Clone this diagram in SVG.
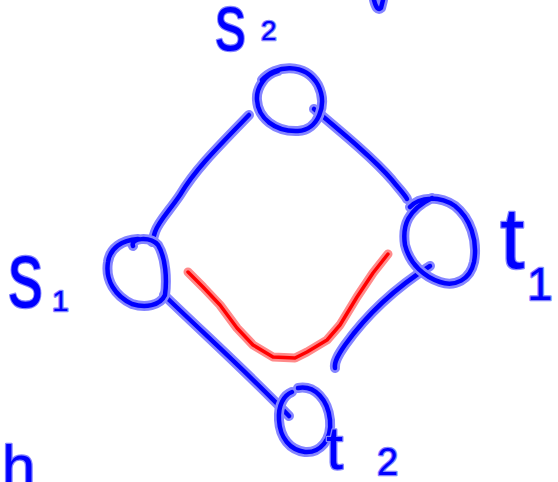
<svg xmlns="http://www.w3.org/2000/svg" width="558" height="482" viewBox="0 0 558 482">
<defs>
<style>
.h{fill:none;stroke:#8585ff;stroke-width:10;stroke-linecap:round;stroke-linejoin:round}
.c{fill:none;stroke:#0000ff;stroke-width:4.5;stroke-linecap:round;stroke-linejoin:round}
.rh{fill:none;stroke:#ff8a8a;stroke-width:9;stroke-linecap:round;stroke-linejoin:round}
.rc{fill:none;stroke:#ff0000;stroke-width:3.5;stroke-linecap:round;stroke-linejoin:round}
.t{font-family:"Liberation Sans",Arial,sans-serif;fill:#0000ff;stroke:#8585ff;stroke-width:2.5;paint-order:stroke;stroke-linejoin:round}
</style>
</defs>
<rect width="558" height="482" fill="#ffffff"/>
<g id="connectors">
<path class="h" d="M249,115 C215,150 195,170 180,195 C170,210 158,222 155,232 L152,242"/>
<path class="h" d="M314,109 C345,135 375,160 392,180 C400,190 405,195 407,199"/>
<path class="h" d="M164,295 C200,330 250,375 289,416"/>
<path class="h" d="M430,266 C400,285 370,310 345,345 C338,355 334,362 335,368"/>
<path class="c" d="M249,115 C215,150 195,170 180,195 C170,210 158,222 155,232 L152,242"/>
<path class="c" d="M314,109 C345,135 375,160 392,180 C400,190 405,195 407,199"/>
<path class="c" d="M164,295 C200,330 250,375 289,416"/>
<path class="c" d="M430,266 C400,285 370,310 345,345 C338,355 334,362 335,368"/>
<path class="rh" d="M188,272 L203,287 L220,305 L237,328 L253,345 L273,357 L295,358 L307,352 L327,340 L340,325 L357,297 L373,273 L388,254"/>
<path class="rc" d="M188,272 L203,287 L220,305 L237,328 L253,345 L273,357 L295,358 L307,352 L327,340 L340,325 L357,297 L373,273 L388,254"/>
</g>
<g id="s2">
<path class="h" d="M262,80 C275,65 305,62 318,85 C328,105 318,130 298,131 C275,132 258,118 257,100 C256,88 265,74 278,71"/>
<path class="c" d="M262,80 C275,65 305,62 318,85 C328,105 318,130 298,131 C275,132 258,118 257,100 C256,88 265,74 278,71"/>
<text class="t" font-size="80" x="215" y="50" textLength="31" lengthAdjust="spacingAndGlyphs">s</text>
<text class="t" font-size="28" x="261" y="40">2</text>
</g>
<g id="s1">
<path class="h" d="M133,246 C130,238 150,236 158,245 C166,258 167,280 165,295 C160,306 145,308 132,304 C115,296 105,280 108,262 C110,248 122,240 138,239"/>
<path class="c" d="M133,246 C130,238 150,236 158,245 C166,258 167,280 165,295 C160,306 145,308 132,304 C115,296 105,280 108,262 C110,248 122,240 138,239"/>
<text class="t" font-size="94" x="8" y="307" textLength="35" lengthAdjust="spacingAndGlyphs">s</text>
<text class="t" font-size="30" x="52" y="311">1</text>
</g>
<g id="t1">
<path class="h" d="M410,207 C420,196 440,196 455,206 C470,218 478,240 474,262 C470,280 455,287 440,282 C425,277 410,265 405,245 C402,225 408,210 432,198"/>
<path class="c" d="M410,207 C420,196 440,196 455,206 C470,218 478,240 474,262 C470,280 455,287 440,282 C425,277 410,265 405,245 C402,225 408,210 432,198"/>
<text class="t" font-size="88" x="500" y="268">t</text>
<text class="t" font-size="46" x="527" y="300">1</text>
</g>
<g id="t2">
<path class="h" d="M298,388 C315,385 328,400 330,420 C332,440 320,453 305,452 C290,450 280,438 279,420 C278,405 284,395 292,392"/>
<path class="c" d="M298,388 C315,385 328,400 330,420 C332,440 320,453 305,452 C290,450 280,438 279,420 C278,405 284,395 292,392"/>
<text class="t" font-size="62" x="326" y="469">t</text>
<text class="t" font-size="38" x="377" y="475">2</text>
</g>
<g id="fragments">
<path class="h" d="M374,0 Q377,12 381,8 L383,0"/>
<path class="c" d="M374,0 Q377,12 381,8 L383,0"/>
<text class="t" font-size="60" x="2" y="487">h</text>
</g>
</svg>
